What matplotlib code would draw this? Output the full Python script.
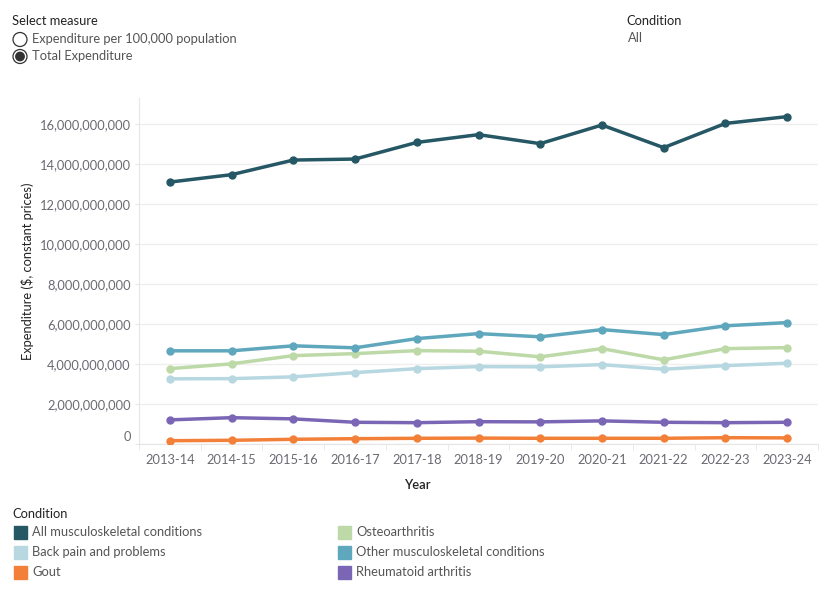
import matplotlib
matplotlib.use("Agg")
import matplotlib.pyplot as plt
from matplotlib import transforms
from matplotlib.patches import Circle, Rectangle
from matplotlib.ticker import FuncFormatter

years = ["2013-14", "2014-15", "2015-16", "2016-17", "2017-18", "2018-19",
         "2019-20", "2020-21", "2021-22", "2022-23", "2023-24"]

all_msk = [13.10, 13.47, 14.20, 14.25, 15.08, 15.47, 15.02, 15.95, 14.82, 16.03, 16.37]
other_msk = [4.67, 4.67, 4.92, 4.82, 5.28, 5.53, 5.37, 5.73, 5.48, 5.92, 6.08]
osteo = [3.78, 4.02, 4.43, 4.53, 4.68, 4.65, 4.37, 4.78, 4.22, 4.78, 4.83]
back_pain = [3.27, 3.28, 3.37, 3.58, 3.78, 3.88, 3.87, 3.98, 3.75, 3.93, 4.05]
rheumatoid = [1.22, 1.33, 1.27, 1.10, 1.08, 1.13, 1.12, 1.17, 1.10, 1.08, 1.10]
gout = [0.18, 0.20, 0.25, 0.28, 0.30, 0.31, 0.30, 0.30, 0.30, 0.33, 0.32]

series = [
    ("All musculoskeletal conditions", all_msk, "#255765"),
    ("Other musculoskeletal conditions", other_msk, "#5fa7bc"),
    ("Osteoarthritis", osteo, "#bcd9a7"),
    ("Back pain and problems", back_pain, "#b7d7e1"),
    ("Rheumatoid arthritis", rheumatoid, "#7a66b5"),
    ("Gout", gout, "#f38038"),
]
legend_order = [
    ("All musculoskeletal conditions", "#255765"),
    ("Back pain and problems", "#b7d7e1"),
    ("Gout", "#f38038"),
    ("Osteoarthritis", "#bcd9a7"),
    ("Other musculoskeletal conditions", "#5fa7bc"),
    ("Rheumatoid arthritis", "#7a66b5"),
]

plt.rcParams["font.family"] = ["Lato", "DejaVu Sans"]
FS = 9.3
W, H = 830, 600
fig = plt.figure(figsize=(W / 100, H / 100), dpi=100)
ax = fig.add_axes([139 / W, 1 - 444.3 / H, (818 - 139) / W, (444.3 - 98) / H])

x = list(range(len(years)))
for name, vals, col in series[::-1]:
    ax.plot(x, [v * 1e9 for v in vals], color=col, lw=2.5, marker="o", ms=5,
            solid_capstyle="round", zorder=3)

ax.set_xlim(-0.5, len(years) - 0.5)
ax.set_ylim(0, 17.3e9)
ax.set_yticks([i * 2e9 for i in range(9)])
ax.yaxis.set_major_formatter(FuncFormatter(lambda v, p: f"{v:,.0f}"))
ax.set_xticks(x)
ax.set_xticklabels(years)
ax.set_xticks([i + 0.5 for i in range(-1, len(years))], minor=True)
ax.grid(axis="y", color="#efefef", lw=1)
ax.set_axisbelow(True)
for s in ["top", "right"]:
    ax.spines[s].set_visible(False)
ax.spines["left"].set_color("#e6e6e6")
ax.spines["bottom"].set_color("#e6e6e6")
ax.tick_params(axis="y", length=3, color="#e6e6e6", labelsize=FS, labelcolor="#6a6a72", pad=3)
ax.tick_params(axis="x", which="major", length=0, labelsize=FS, labelcolor="#6a6a72", pad=7)
ax.tick_params(axis="x", which="minor", length=4, color="#e6e6e6")

# Tableau nudges the bottom label up
zero_lbl = ax.get_yticklabels()[0]
zero_lbl.set_transform(zero_lbl.get_transform() +
                       transforms.ScaledTranslation(0, 8 / 100, fig.dpi_scale_trans))

fig.text(28 / W, 1 - 271 / H, "Expenditure ($, constant prices)", rotation=90,
         ha="center", va="center", fontsize=FS, color="#222222")
fig.text(417 / W, 1 - 485 / H, "Year", ha="center", va="center", fontsize=FS,
         color="#222222", fontweight="semibold")

# overlay in pixel coordinates for controls and legend
ov = fig.add_axes([0, 0, 1, 1])
ov.set_xlim(0, W)
ov.set_ylim(H, 0)
ov.axis("off")
ov.patch.set_visible(False)

ov.text(12, 21, "Select measure", fontsize=FS, color="#222222", va="center")
ov.add_patch(Circle((20, 39.5), 7, fill=False, ec="#333333", lw=0.9))
ov.add_patch(Circle((20, 56.5), 7, fill=False, ec="#333333", lw=0.9))
ov.add_patch(Circle((20, 56.5), 4.2, color="#333333"))
ov.text(32, 39, "Expenditure per 100,000 population", fontsize=FS, color="#555555", va="center")
ov.text(32, 56, "Total Expenditure", fontsize=FS, color="#555555", va="center")

ov.text(626, 21, "Condition", fontsize=FS, color="#222222", va="center")
ov.text(628, 38, "All", fontsize=FS, color="#555555", va="center")

ov.text(12, 514, "Condition", fontsize=FS, color="#222222", va="center")
for i, (name, col) in enumerate(legend_order):
    cx = 14 if i < 3 else 338
    cy = 532 + 20 * (i % 3)
    ov.add_patch(Rectangle((cx, cy - 6.5), 13, 13, color=col))
    ov.text(cx + 18, cy, name, fontsize=FS, color="#555555", va="center")

fig.savefig("out.png", dpi=100)
